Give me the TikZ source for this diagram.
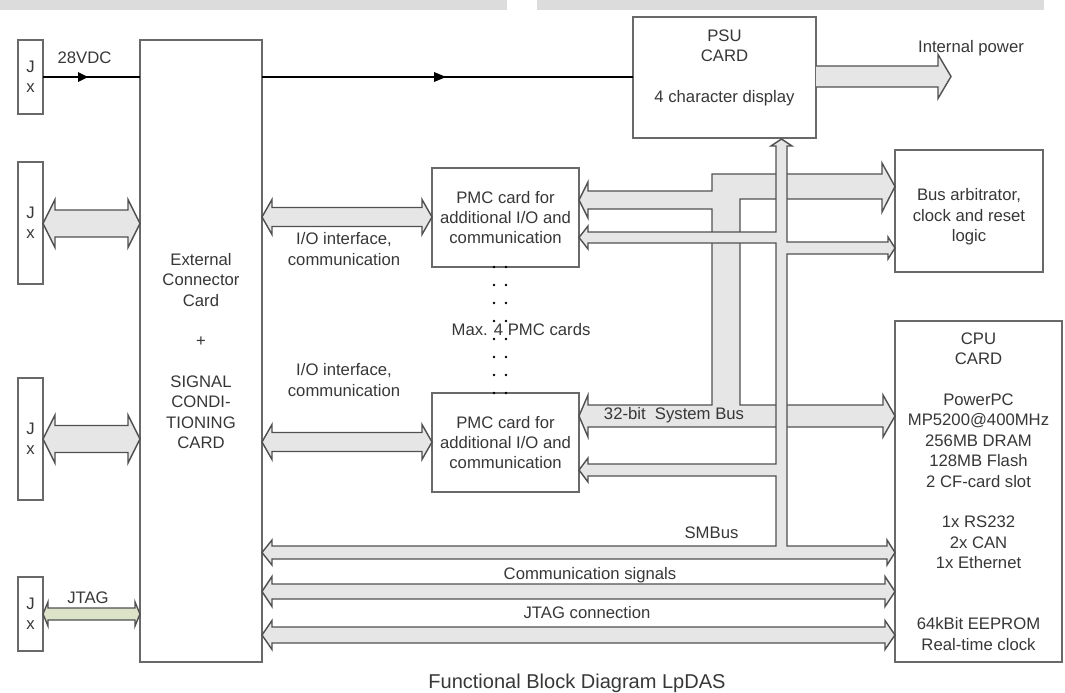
\documentclass[tikz,border=0pt]{standalone}
\usepackage{fontspec}
\setmainfont{Liberation Sans}
\usetikzlibrary{calc}
\definecolor{boxgray}{RGB}{105,105,105}
\definecolor{busline}{RGB}{80,80,80}
\definecolor{busfill}{RGB}{230,230,230}
\definecolor{jtagfill}{RGB}{220,227,200}
\definecolor{txt}{RGB}{55,55,55}
\definecolor{topgray}{RGB}{220,220,220}
\newdimen\pxu \pxu=0.02cm
\newcommand\fs{\fontsize{9.5}{11.6}\selectfont}
\newcommand\cardbox[6]{\node[card, minimum width={(#4-#2)*\pxu}, minimum height={(#5-#3)*\pxu}] (#1) at ({(#2+#4)/2},{(#3+#5)/2}) {#6};}
% [style]{left anchor}{right anchor}{y centre}{half body}{half head}{head length}  (pixel units, y down)
\newcommand\dblarrow[7][]{%
 \path[busarrow,#1] let \p1=(#2), \p2=(#3) in
 (\x1,{-(#4)*\pxu}) -- ({\x1+#7*\pxu},{-(#4-#6)*\pxu}) -- ({\x1+#7*\pxu},{-(#4-#5)*\pxu}) -- ({\x2-#7*\pxu},{-(#4-#5)*\pxu}) -- ({\x2-#7*\pxu},{-(#4-#6)*\pxu}) -- (\x2,{-(#4)*\pxu}) -- ({\x2-#7*\pxu},{-(#4+#6)*\pxu}) -- ({\x2-#7*\pxu},{-(#4+#5)*\pxu}) -- ({\x1+#7*\pxu},{-(#4+#5)*\pxu}) -- ({\x1+#7*\pxu},{-(#4+#6)*\pxu}) -- cycle;}
\newcommand\rarrow[7][]{%
 \path[busarrow,#1] let \p1=(#2), \p2=(#3) in
 (\x1,{-(#4-#5)*\pxu}) -- ({\x2-#7*\pxu},{-(#4-#5)*\pxu}) -- ({\x2-#7*\pxu},{-(#4-#6)*\pxu}) -- (\x2,{-(#4)*\pxu}) -- ({\x2-#7*\pxu},{-(#4+#6)*\pxu}) -- ({\x2-#7*\pxu},{-(#4+#5)*\pxu}) -- (\x1,{-(#4+#5)*\pxu});}
\begin{document}
\begin{tikzpicture}[x=0.02cm,y=-0.02cm,
  card/.style={draw=boxgray, line width=1pt, fill=white, inner sep=0pt, outer sep=0pt, align=center, font=\fs, text=txt},
  busarrow/.style={draw=busline, fill=busfill, line width=0.8pt, line join=miter},
  lbl/.style={font=\fs, text=txt, inner sep=0pt, align=center},
  vline/.style={line width=1.4pt, black}]
\useasboundingbox (0,0) rectangle (1065,693);
\fill[topgray] (0,0) rectangle (507,10);
\fill[topgray] (537,0) rectangle (1044,10);
% boxes
\cardbox{jx1}{18}{40}{43}{114}{J\\x}
\cardbox{jx2}{18}{162}{43}{284}{J\\x}
\cardbox{jx3}{18}{378}{43}{500}{J\\x}
\cardbox{jx4}{18}{577}{43}{651}{J\\x}
\cardbox{ext}{140}{40}{262}{662}{External\\Connector\\Card\\[11.6pt]+\\[11.6pt]SIGNAL\\CONDI-\\TIONING\\CARD}
\cardbox{psu}{633}{17}{816}{138}{}
\node[lbl] (psutext) at (724.5,68) {PSU\\CARD\\[11.6pt]4 character display};
\cardbox{pmc1}{432}{168}{579}{267}{PMC card for\\additional I/O and\\communication}
\cardbox{pmc2}{432}{393}{579}{492}{PMC card for\\additional I/O and\\communication}
\cardbox{arb}{895}{150}{1043}{272}{}
\node[lbl] (arbtext) at (969,217) {Bus arbitrator,\\clock and reset\\logic};
\cardbox{cpu}{895}{321}{1062}{662}{CPU\\CARD\\[11.6pt]PowerPC\\MP5200@400MHz\\256MB DRAM\\128MB Flash\\2 CF-card slot\\[11.6pt]1x RS232\\2x CAN\\1x Ethernet\\[23.2pt]64kBit EEPROM\\Real-time clock}
% 28VDC power line
\draw[vline] (jx1.east) -- (jx1.east -| ext.west);
\draw[vline] (jx1.east -| ext.east) -- (jx1.east -| psu.west);
\fill (78,72) -- (88,77) -- (78,82) -- cycle;
\fill (434,72) -- (446,77) -- (434,82) -- cycle;
% internal power
\coordinate (ipwr) at (951,76.5);
\rarrow{psu.east}{ipwr}{76.5}{10.5}{22}{13}
% connector arrows
\dblarrow{jx2.east}{ext.west}{223.5}{13.5}{24}{12}
\dblarrow{jx3.east}{ext.west}{439}{13.5}{24}{12}
\dblarrow[fill=jtagfill]{jx4.east}{ext.west}{614}{6}{12}{5}
\dblarrow{ext.east}{pmc1.west}{217}{9.5}{17.5}{10}
\dblarrow{ext.east}{pmc2.west}{442}{9.5}{17.5}{10}
\dblarrow{ext.east}{cpu.west}{591.5}{7.5}{15}{10}
\dblarrow{ext.east}{cpu.west}{635}{8}{14.5}{10}
% system bus network
\path[busarrow] (579,200) -- (588,182) -- (588,191) -- (712,191) -- (712,174) -- (882,174) -- (882,163) -- (895,186.5) -- (882,212) -- (882,199) -- (740,199) -- (740,405) -- (883,405) -- (883,395) -- (895,416) -- (883,437) -- (883,427) -- (588,427) -- (588,437) -- (579,416) -- (588,395) -- (588,405) -- (712,405) -- (712,209) -- (588,209) -- (588,218) -- cycle;
% SMBus network
\path[busarrow] (781.5,139) -- (792,146) -- (787,146) -- (787,242) -- (888,242) -- (888,237) -- (895,248) -- (888,259) -- (888,254) -- (787,254) -- (787,546) -- (887,546) -- (887,540) -- (895,552.5) -- (887,565) -- (887,559) -- (272,559) -- (272,565) -- (262,552.5) -- (272,540) -- (272,546) -- (776,546) -- (776,476) -- (588,476) -- (588,482) -- (579,470) -- (588,458) -- (588,464) -- (776,464) -- (776,243) -- (588,243) -- (588,249) -- (579,237.5) -- (588,226) -- (588,232) -- (776,232) -- (776,146) -- (771,146) -- cycle;
% dots
\foreach \yy in {267,285,...,393} {
  \fill[black] (494,\yy) circle[radius=0.8pt];
  \fill[black] (506,\yy) circle[radius=0.8pt];
}
% labels
\node[lbl] (l28) at (84.5,58) {28VDC};
\node[lbl] (lip) at (971,48) {Internal power};
\node[lbl] (lio1) at (344,249) {I/O interface,\\communication};
\node[lbl] (lio2) at (344,380) {I/O interface,\\communication};
\node[lbl] (lmax) at (521,330) {Max. 4 PMC cards};
\node[lbl] (lsys) at (674,415) {32-bit\ \ System Bus};
\node[lbl] (lsmb) at (711.5,533) {SMBus};
\node[lbl] (lcomm) at (590,575) {Communication signals};
\node[lbl] (ljc) at (587,613) {JTAG connection};
\node[lbl] (ljtag) at (88,598) {JTAG};
\node[lbl, font=\fontsize{11.4}{13}\selectfont] (cap) at (577,683) {Functional Block Diagram LpDAS};
\end{tikzpicture}
\end{document}
